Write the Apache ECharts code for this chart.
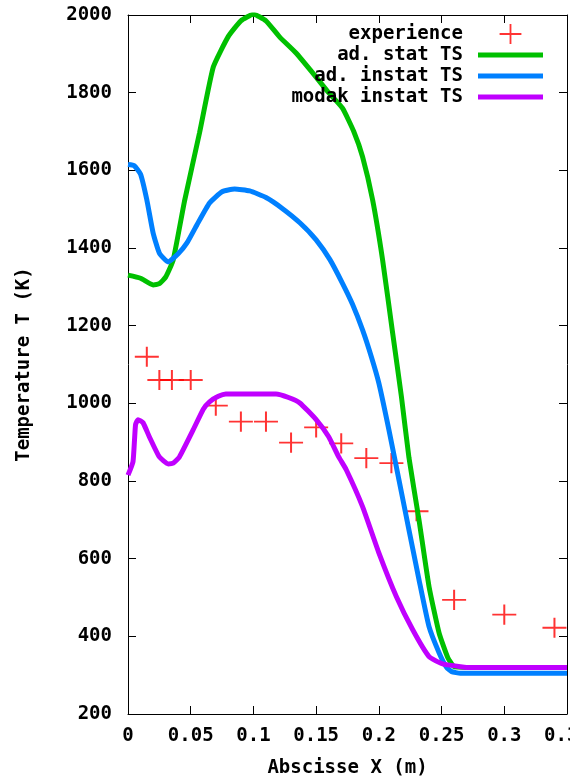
<!DOCTYPE html>
<html style="height: 100%">
<head>
<meta charset="utf-8">
<script src="https://cdn.jsdelivr.net/npm/echarts@6/dist/echarts.min.js"></script>
</head>
<body style="height: 100%; margin: 0; background: #fff">
<div id="container" style="width: 570px; height: 777px"></div>
<script type="text/javascript">
// measured points, picture read by eye
var experience = [
  [0.015, 1120], [0.025, 1060], [0.035, 1060], [0.05, 1060], [0.07, 994],
  [0.09, 953], [0.11, 953], [0.13, 899], [0.15, 938], [0.17, 897],
  [0.19, 859], [0.21, 846], [0.23, 722], [0.26, 494], [0.30, 456], [0.34, 422]
];
var adStat = [
  [0, 1330], [0.01, 1322], [0.02, 1305], [0.025, 1308], [0.03, 1325], [0.036, 1369],
  [0.045, 1520], [0.057, 1696], [0.068, 1866], [0.08, 1945], [0.09, 1985], [0.1, 2002],
  [0.11, 1985], [0.121, 1943], [0.134, 1902], [0.15, 1840], [0.16, 1800], [0.171, 1760],
  [0.18, 1700], [0.187, 1635], [0.195, 1524], [0.203, 1369], [0.211, 1181],
  [0.218, 1017], [0.224, 860], [0.232, 700], [0.24, 528], [0.248, 409], [0.255, 345],
  [0.26, 322], [0.27, 320], [0.35, 320]
];
var adInstat = [
  [0, 1615], [0.005, 1612], [0.01, 1590], [0.015, 1524], [0.02, 1439], [0.025, 1387],
  [0.032, 1364], [0.04, 1385], [0.047, 1413], [0.055, 1460], [0.065, 1516], [0.075, 1545],
  [0.085, 1552], [0.097, 1547], [0.11, 1530], [0.123, 1502], [0.137, 1465], [0.15, 1421],
  [0.161, 1370], [0.171, 1309], [0.179, 1255], [0.187, 1189], [0.194, 1120], [0.2, 1052],
  [0.208, 932], [0.216, 803], [0.224, 674], [0.232, 546], [0.24, 425], [0.248, 358],
  [0.254, 320], [0.258, 309], [0.265, 305], [0.35, 305]
];
var modakInstat = [
  [0, 815], [0.004, 850], [0.006, 945], [0.008, 958], [0.012, 950], [0.017, 914],
  [0.025, 862], [0.032, 844], [0.036, 846], [0.041, 862], [0.052, 932], [0.06, 985],
  [0.065, 1004], [0.072, 1018], [0.078, 1024], [0.118, 1024], [0.128, 1015], [0.137, 1001],
  [0.15, 958], [0.16, 914], [0.168, 862], [0.174, 829], [0.187, 734], [0.2, 615],
  [0.214, 502], [0.227, 417], [0.24, 348], [0.25, 330], [0.254, 327], [0.27, 320], [0.35, 320]
];
var seriesNames = ['experience', 'ad. stat TS', 'ad. instat TS', 'modak instat TS'];
var colors = ['#ff0000', '#00c000', '#0080ff', '#c000ff'];

var font = { fontFamily: 'DejaVu Sans Mono', fontWeight: 'bold', fontSize: 19, color: '#000' };
var cross = 'path://M0,10L24,10L24,12L0,12Z M11,0L13,0L13,22L11,22Z';
// thick line icon, corner points keep the 65x20 box
var bar = 'path://M0,0L0.01,0 M0,7.5L65,7.5L65,12.5L0,12.5Z M65,20L64.99,20';

var myChart = echarts.init(document.getElementById('container'));

function axisBase(extra) {
  var a = {
    type: 'value',
    axisLine: { show: true, onZero: false, lineStyle: { color: '#000', width: 1 } },
    axisTick: { show: true, inside: true, length: 8, lineStyle: { color: '#000' } },
    splitLine: { show: false }
  };
  for (var k in extra) a[k] = extra[k];
  return a;
}

function lineSeries(i, data) {
  return {
    name: seriesNames[i], type: 'line', data: data, z: 1 + i,
    showSymbol: false, symbol: 'none',
    smooth: 0.15,
    lineStyle: { color: colors[i], width: 5 }, itemStyle: { color: colors[i] }
  };
}

var option = {
  animation: false,
  backgroundColor: '#fff',
  grid: { left: 128, right: 3, top: 15, bottom: 63, outerBoundsMode: 'none', containLabel: false },
  legend: {
    orient: 'vertical',
    right: 22,
    top: 19,
    align: 'right',
    itemWidth: 65,
    itemHeight: 20,
    itemGap: 1,
    textStyle: { fontFamily: font.fontFamily, fontWeight: 'bold', fontSize: 19, color: '#000', padding: [0, 10, 0, 0] },
    data: [
      { name: seriesNames[0], icon: cross },
      { name: seriesNames[1], icon: bar },
      { name: seriesNames[2], icon: bar },
      { name: seriesNames[3], icon: bar }
    ]
  },
  xAxis: [
    axisBase({
      position: 'bottom', min: 0, max: 0.35, interval: 0.05,
      axisLabel: Object.assign({ margin: 13 }, font),
      name: 'Abscisse X (m)', nameLocation: 'middle', nameGap: 45,
      nameTextStyle: font
    }),
    axisBase({
      position: 'top', min: 0, max: 0.35, interval: 0.05,
      axisLabel: { show: false }
    })
  ],
  yAxis: [
    axisBase({
      position: 'left', min: 200, max: 2000, interval: 200,
      axisLabel: Object.assign({ margin: 16, formatter: function (v) { return String(v); } }, font),
      name: 'Temperature T (K)', nameLocation: 'middle', nameGap: 94,
      nameTextStyle: font
    }),
    axisBase({
      position: 'right', min: 200, max: 2000, interval: 200,
      axisLabel: { show: false }
    })
  ],
  series: [
    {
      name: seriesNames[0], type: 'scatter', data: experience, z: 1,
      symbol: cross, symbolSize: [24, 22], symbolKeepAspect: true,
      itemStyle: { color: colors[0] }
    },
    lineSeries(1, adStat),
    lineSeries(2, adInstat),
    lineSeries(3, modakInstat)
  ]
};
myChart.setOption(option);
</script>
</body>
</html>
